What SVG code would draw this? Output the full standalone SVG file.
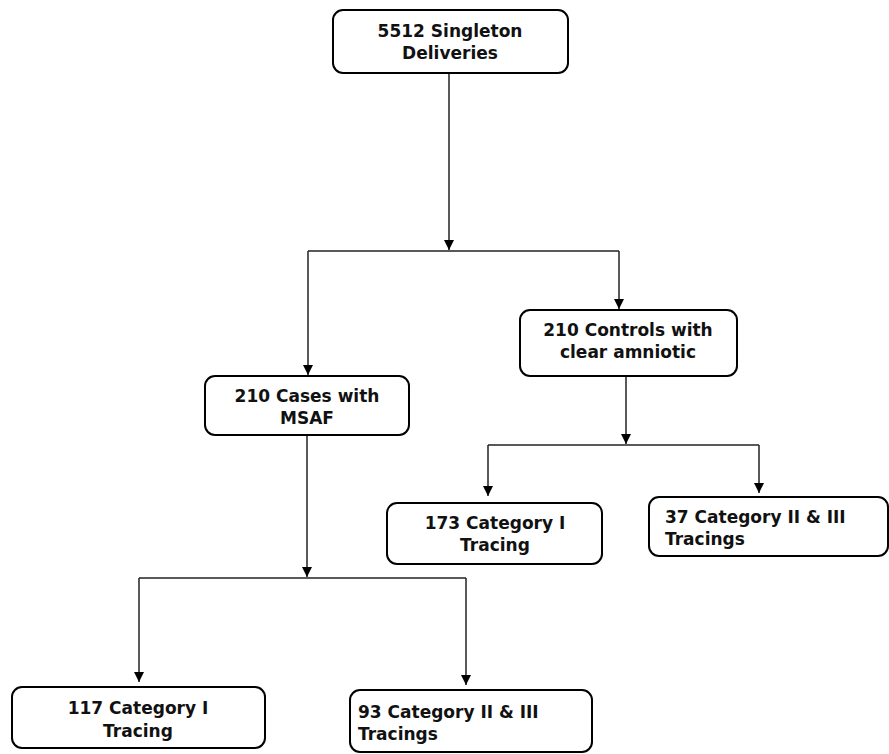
<svg xmlns="http://www.w3.org/2000/svg" width="889" height="754" viewBox="0 0 889 754">
<style>
  .box{fill:#fff;stroke:#000;stroke-width:2}
  .t{font-family:"DejaVu Sans",sans-serif;font-weight:bold;font-size:17px;fill:#111}
  .c{text-anchor:middle}
  .ln{fill:none;stroke:#222;stroke-width:1.5}
</style>
<defs>
  <marker id="ah" markerUnits="userSpaceOnUse" markerWidth="10" markerHeight="10" refX="10" refY="5" orient="auto">
    <path d="M0,0 L10,5 L0,10 z" fill="#000"/>
  </marker>
</defs>
<rect width="889" height="754" fill="#fff"/>
<g id="connectors">
  <path class="ln" d="M449,73 V250" marker-end="url(#ah)"/>
  <path class="ln" d="M308,251 H619"/>
  <path class="ln" d="M308,251 V375" marker-end="url(#ah)"/>
  <path class="ln" d="M619,251 V309" marker-end="url(#ah)"/>
  <path class="ln" d="M626,376 V444" marker-end="url(#ah)"/>
  <path class="ln" d="M488,445 H759"/>
  <path class="ln" d="M488,445 V496" marker-end="url(#ah)"/>
  <path class="ln" d="M759,445 V493" marker-end="url(#ah)"/>
  <path class="ln" d="M307,435 V577" marker-end="url(#ah)"/>
  <path class="ln" d="M139,578 H466"/>
  <path class="ln" d="M139,578 V682" marker-end="url(#ah)"/>
  <path class="ln" d="M466,578 V685" marker-end="url(#ah)"/>
</g>
<g id="n1">
  <rect class="box" x="333" y="10" width="235" height="63" rx="10"/>
  <text class="t c" x="450" y="37">5512 Singleton</text>
  <text class="t c" x="450" y="59">Deliveries</text>
</g>
<g id="n2">
  <rect class="box" x="520" y="310" width="217" height="66" rx="10"/>
  <text class="t c" x="628" y="336">210 Controls with</text>
  <text class="t c" x="628" y="358">clear amniotic</text>
</g>
<g id="n3">
  <rect class="box" x="205" y="376" width="204" height="59" rx="10"/>
  <text class="t c" x="307" y="402">210 Cases with</text>
  <text class="t c" x="307" y="424">MSAF</text>
</g>
<g id="n4">
  <rect class="box" x="387" y="503" width="215" height="61" rx="10"/>
  <text class="t c" x="495" y="529">173 Category I</text>
  <text class="t c" x="495" y="551">Tracing</text>
</g>
<g id="n5">
  <rect class="box" x="649" y="497" width="239" height="59" rx="10"/>
  <text class="t" x="665" y="523">37 Category II &amp; III</text>
  <text class="t" x="665" y="545">Tracings</text>
</g>
<g id="n6">
  <rect class="box" x="12" y="687" width="253" height="61" rx="10"/>
  <text class="t c" x="138" y="714">117 Category I</text>
  <text class="t c" x="138" y="737">Tracing</text>
</g>
<g id="n7">
  <rect class="box" x="350" y="690" width="242" height="62" rx="10"/>
  <text class="t" x="358" y="718">93 Category II &amp; III</text>
  <text class="t" x="358" y="740">Tracings</text>
</g>
</svg>
